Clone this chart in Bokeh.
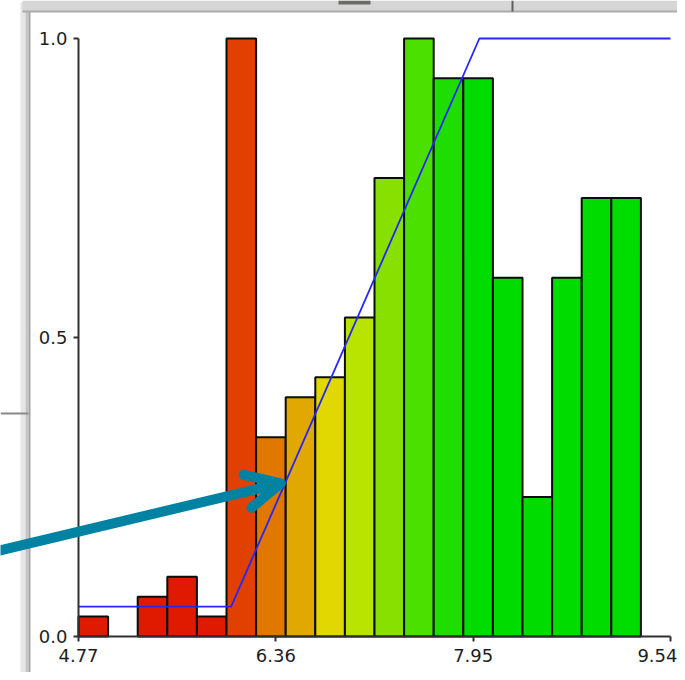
from bokeh.plotting import figure
from bokeh.models import Range1d, FixedTicker, Arrow, OpenHead, BoxAnnotation, ColumnDataSource
from bokeh.embed import file_html
from bokeh.resources import INLINE
import numpy as np

# ---- data ----
x_min, x_max, n_bins = 4.77, 9.54, 20
counts = [1, 0, 2, 3, 1, 30, 10, 12, 13, 16, 23, 30, 28, 28, 18, 7, 18, 22, 22, 0]
max_count = 30
bar_colors = ["#E01A00", "#E01A00", "#E01A00", "#E01A00", "#E01A00",
              "#E04000", "#E07800", "#E0A800", "#E0D800", "#B8E400",
              "#88E000", "#4CE000", "#1EDE00", "#00DC00", "#00DC00",
              "#00DC00", "#00DC00", "#00DC00", "#00DC00", "#00DC00"]
x_ticks = [4.77, 6.36, 7.95, 9.54]
y_ticks = [0.0, 0.5, 1.0]
tf_x = [4.77, 6.0, 8.0, 9.54]
tf_y = [0.05, 0.05, 1.0, 1.0]
arrow_start = (4.14, 0.144)
arrow_end = (6.398, 0.256)

edges = np.linspace(x_min, x_max, n_bins + 1)
heights = [c / max_count for c in counts]
keep = [i for i, h in enumerate(heights) if h > 0]
src = ColumnDataSource(dict(left=[edges[i] for i in keep],
                            right=[edges[i + 1] for i in keep],
                            top=[heights[i] for i in keep],
                            color=[bar_colors[i] for i in keep]))

W, H = 677, 672
px_x = 592 / (x_max - x_min)
px_y = 598.0
x_lo = x_min - 78 / px_x
x_hi = x_min + (W - 78) / px_x
y_hi = 1.0 + 38 / px_y
y_lo = -(H - 636) / px_y

p = figure(width=W, height=H, output_backend="svg", toolbar_location=None,
           x_range=Range1d(x_lo, x_hi), y_range=Range1d(y_lo, y_hi),
           min_border_left=0, min_border_right=0, min_border_top=0,
           min_border_bottom=0)
p.outline_line_color = None
p.xgrid.visible = False
p.ygrid.visible = False
p.background_fill_color = "white"
p.border_fill_color = "white"

# window chrome around the panel (data units)
def bx(l, r, b, t, c):
    p.add_layout(BoxAnnotation(left=l, right=r, bottom=b, top=t, fill_color=c,
                               fill_alpha=1, line_color=None, level="underlay"))

dx, dy = 1 / px_x, 1 / px_y
bx(x_lo + 20 * dx, x_lo + 25 * dx, y_lo, y_hi - 2 * dy, "#E6E6E6")
bx(x_lo + 25 * dx, x_lo + 28 * dx, y_lo, y_hi - 4 * dy, "#C4C4C4")
bx(x_lo + 28 * dx, x_lo + 30 * dx, y_lo, y_hi - 10 * dy, "#A4A4A4")
bx(x_lo + 22 * dx, x_hi, y_hi - 11 * dy, y_hi, "#D6D6D6")
bx(x_lo + 22 * dx, x_hi, y_hi - 12 * dy, y_hi - 10 * dy, "#ABABAB")
bx(x_lo + 338 * dx, x_lo + 370 * dx, y_hi - 4 * dy, y_hi, "#6A6A68")
bx(x_lo + 511 * dx, x_lo + 513 * dx, y_hi - 11 * dy, y_hi, "#5E5E5E")
bx(x_lo, x_lo + 28 * dx, y_hi - 414 * dy, y_hi - 412 * dy, "#8A8A8A")

p.quad(left="left", right="right", bottom=0, top="top", source=src,
       fill_color="color", line_color="#0c0c0c", line_width=2)
p.line(tf_x, tf_y, line_color="#2626ff", line_width=1.8)

for ax, ticks, loc in ((p.xaxis[0], x_ticks, 0.0), (p.yaxis[0], y_ticks, x_min)):
    ax.fixed_location = loc
    ax.ticker = FixedTicker(ticks=ticks)
    ax.minor_tick_line_color = None
    ax.major_tick_in = 0
    ax.major_tick_out = 5
    ax.axis_line_color = "#303030"
    ax.axis_line_width = 2
    ax.major_tick_line_color = "#303030"
    ax.major_tick_line_width = 2
    ax.major_label_text_font = "DejaVu Sans"
    ax.major_label_text_font_size = "18px"
    ax.major_label_text_color = "#1e1e1e"
p.xaxis.major_label_standoff = 7
p.yaxis.major_label_standoff = 6
p.yaxis.major_label_overrides = {0.0: "0.0", 0.5: "0.5", 1.0: "1.0"}
p.xaxis.major_label_overrides = {t: "%.2f" % t for t in x_ticks}
p.xaxis[0].bounds = (x_min, x_max)
p.yaxis[0].bounds = (0.0, 1.0)

p.add_layout(Arrow(end=OpenHead(line_color="#0082A3", line_width=10, size=34,
                                line_cap="round", line_join="round"),
                   x_start=arrow_start[0], y_start=arrow_start[1],
                   x_end=arrow_end[0], y_end=arrow_end[1],
                   line_color="#0082A3", line_width=10, line_cap="round"))

open("out.html", "w").write(file_html(p, INLINE))
